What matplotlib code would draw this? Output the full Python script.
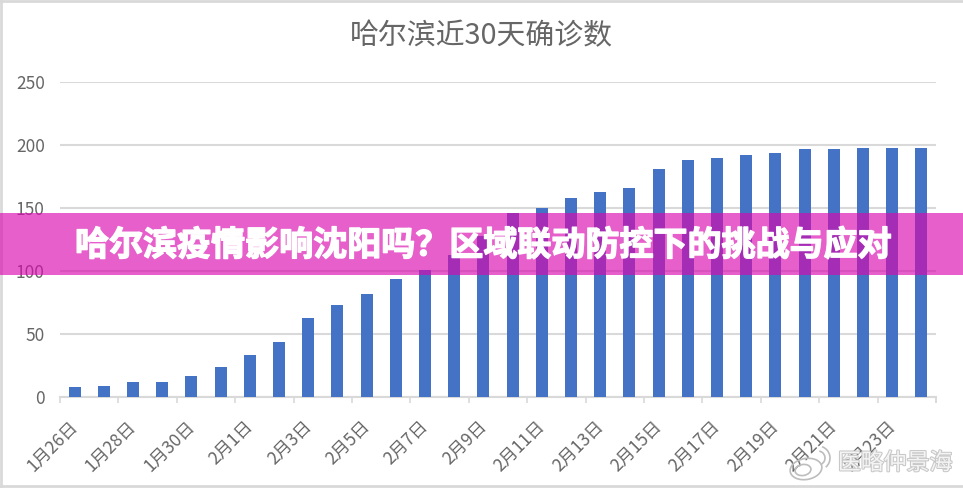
import matplotlib
matplotlib.use('Agg')
import matplotlib.pyplot as plt
import matplotlib.patheffects as pe
from matplotlib.patches import Rectangle, Ellipse, Arc
from matplotlib.lines import Line2D
import numpy as np

plt.rcParams['font.family'] = ['Noto Sans CJK SC', 'DejaVu Sans']

W, H = 963, 488

days = ['1月26日', '1月27日', '1月28日', '1月29日', '1月30日', '1月31日',
        '2月1日', '2月2日', '2月3日', '2月4日', '2月5日', '2月6日', '2月7日',
        '2月8日', '2月9日', '2月10日', '2月11日', '2月12日', '2月13日',
        '2月14日', '2月15日', '2月16日', '2月17日', '2月18日', '2月19日',
        '2月20日', '2月21日', '2月22日', '2月23日', '2月24日']
cases = [8, 9, 12, 12, 17, 24, 33, 44, 63, 73, 82, 94, 101, 113, 128, 146,
         150, 158, 163, 166, 181, 188, 190, 192, 194, 197, 197, 198, 198, 198]
yticks = [0, 50, 100, 150, 200, 250]

chart_title = '哈尔滨近30天确诊数'
banner_title = '哈尔滨疫情影响沈阳吗？区域联动防控下的挑战与应对'
watermark = '医略仲景海'

fig = plt.figure(figsize=(W / 100, H / 100), dpi=100)
ax = fig.add_axes([60 / W, 1 - 397 / H, 876 / W, 315 / H])

x = np.arange(len(days))
ax.bar(x, cases, width=0.41, color='#4472C4', zorder=3)

ax.set_xlim(-0.5, len(days) - 0.5)
ax.set_ylim(0, 250)
ax.set_yticks(yticks)
ax.tick_params(axis='y', length=0, labelsize=12.5, labelcolor='#666666', pad=11)
ax.grid(axis='y', color='#D9D9D9', linewidth=1.5, zorder=0)

# tick marks sit between categories, labels under every second bar
ax.set_xticks(np.arange(-0.5, len(days), 2).tolist() + [len(days) - 0.5])
ax.set_xticklabels([])
ax.tick_params(axis='x', length=4, width=1.2, color='#D9D9D9', direction='out')
for i in x[::2]:
    ax.annotate(days[i], (i, 0), xytext=(i - 0.2, -14.5), xycoords='data',
                textcoords=('data', 'offset points'), rotation=45,
                ha='right', va='top', rotation_mode='anchor',
                fontsize=12.5, color='#666666', annotation_clip=False)

for s in ['top', 'right', 'left']:
    ax.spines[s].set_visible(False)
ax.spines['bottom'].set_color('#D9D9D9')
ax.spines['bottom'].set_linewidth(1.5)

fig.text(481 / W, 1 - 36 / H, chart_title, ha='center', va='center',
         fontsize=20.8, color='#666666')

# outer chart border
for xs, ys in [([0, 1], [0.997, 0.997]), ([0.001, 0.001], [0, 1]), ([0, 1], [0.004, 0.004])]:
    fig.add_artist(Line2D(xs, ys, color='#D9D9D9', linewidth=2))

# banner across the middle
fig.add_artist(Rectangle((0, 1 - 275 / H), 1, 62 / H, transform=fig.transFigure,
                         facecolor=(218 / 255, 9 / 255, 175 / 255), alpha=0.65,
                         edgecolor='none', zorder=5))
fig.text(483 / W, 1 - 245 / H, banner_title, ha='center', va='center',
         fontsize=24.5, fontweight='bold', color='white', zorder=6,
         path_effects=[pe.withStroke(linewidth=1.0, foreground='white')])

# watermark, logo drawn in pixel coords of the figure
overlay = fig.add_axes([0, 0, 1, 1], facecolor='none', zorder=7)
overlay.set_xlim(0, W)
overlay.set_ylim(H, 0)
overlay.axis('off')
logo = dict(facecolor='none', edgecolor='#BDBDBD', linewidth=1.2)
overlay.add_patch(Ellipse((806, 469), 32, 21, angle=-10, **logo))
overlay.add_patch(Ellipse((803, 470), 16, 11, angle=-10, **logo))
overlay.add_patch(Arc((818, 458), 14, 14, theta1=-80, theta2=60, color='#BDBDBD', linewidth=1.2))
overlay.add_patch(Arc((818, 458), 24, 24, theta1=-70, theta2=50, color='#BDBDBD', linewidth=1.2))

overlay.text(895, 463, watermark, ha='center', va='center', fontsize=16.5,
             color='#F4F4F4',
             path_effects=[pe.withStroke(linewidth=1.5, foreground='#C8C8C8')])

fig.savefig('out.png', dpi=100)
